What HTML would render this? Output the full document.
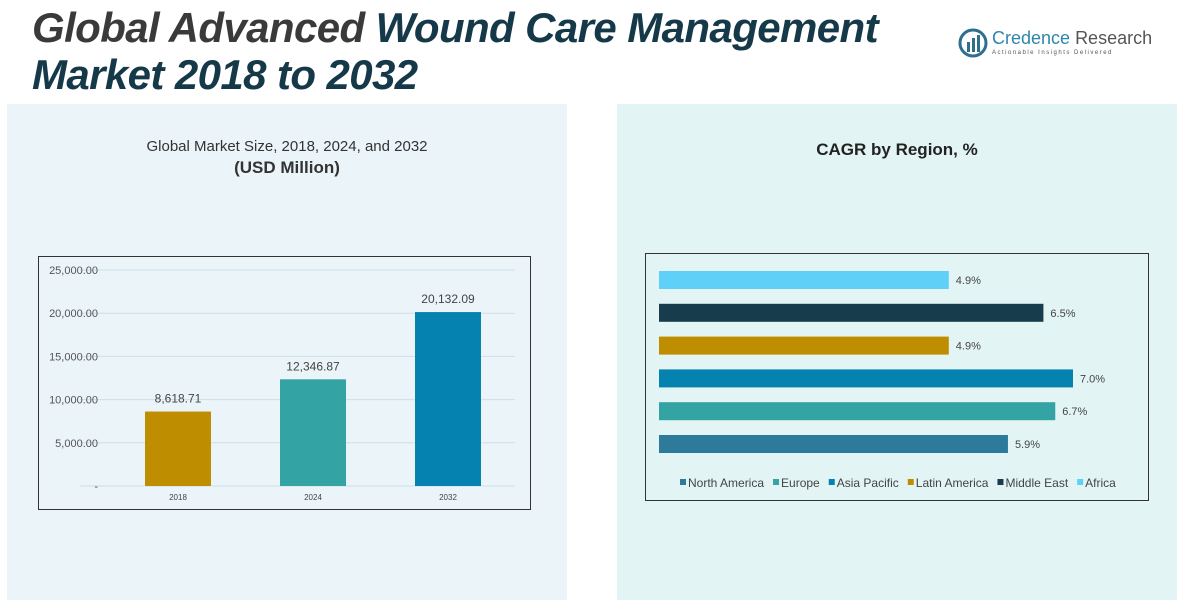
<!DOCTYPE html>
<html><head><meta charset="utf-8"><style>
body{margin:0;width:1193px;height:615px;background:#fff;position:relative;overflow:hidden;font-family:"Liberation Sans",sans-serif}
.abs{position:absolute}
</style></head><body>
<div class="abs" style="left:7px;top:104px;width:560px;height:496px;background:#eaf4f9"></div>
<div class="abs" style="left:617px;top:104px;width:560px;height:496px;background:#e3f4f5"></div>
<div class="abs" style="left:32px;top:4px;font-size:42px;font-weight:bold;font-style:italic;line-height:47px;color:#16394a;letter-spacing:-0.6px;white-space:nowrap"><span style="color:#3a3a3a">Global Advanced</span> Wound Care Management<br>Market 2018 to 2032</div>
<div class="abs" style="left:958px;top:26px;width:200px;height:40px">
<svg width="30" height="30" style="position:absolute;left:0;top:2px"><circle cx="15" cy="15" r="13" fill="none" stroke="#2e6f8e" stroke-width="3"/><rect x="9" y="14" width="3" height="10" fill="#2e6f8e"/><rect x="14" y="10" width="3" height="14" fill="#2e6f8e"/><rect x="19" y="7" width="3" height="17" fill="#2e6f8e"/></svg>
<div class="abs" style="left:34px;top:2px;font-size:18px;color:#2e86ab;white-space:nowrap">Credence <span style="color:#555">Research</span></div>
<div class="abs" style="left:34px;top:24px;font-size:6px;color:#555;letter-spacing:1.5px;white-space:nowrap">Actionable Insights Delivered</div>
</div>
<div class="abs" style="left:7px;width:560px;top:138px;text-align:center;font-size:15px;color:#333">Global Market Size, 2018, 2024, and 2032<br><b style="font-size:17px;line-height:26px">(USD Million)</b></div>
<div class="abs" style="left:617px;width:560px;top:140px;text-align:center;font-size:17px;font-weight:bold;color:#222">CAGR by Region, %</div>
<svg class="abs" style="left:0;top:0" width="1193" height="615" id="svg">
<rect x="38.5" y="256.5" width="492" height="253" fill="none" stroke="#333" stroke-width="1"/>
<rect x="645.5" y="253.5" width="503" height="247" fill="none" stroke="#333" stroke-width="1"/>
<g id="bars1"></g><g id="bars2"></g>
</svg>
<script>
const years=["2018","2024","2032"];
const sizes=[8618.71,12346.87,20132.09];
const sizeLabels=["8,618.71","12,346.87","20,132.09"];
const yTicks=[0,5000,10000,15000,20000,25000];
const yTickLabels=["-","5,000.00","10,000.00","15,000.00","20,000.00","25,000.00"];
const barColors=["#bf8e00","#33a3a3","#0582b0"];
const regions=["North America","Europe","Asia Pacific","Latin America","Middle East","Africa"];
const cagr=[5.9,6.7,7.0,4.9,6.5,4.9];
const regionColors=["#2e7a9a","#33a3a3","#0582b0","#bf8e00","#173d4d","#5fd0f8"];
const NS="http://www.w3.org/2000/svg";
function mk(t,a,p){const e=document.createElementNS(NS,t);for(const k in a)e.setAttribute(k,a[k]);p.appendChild(e);return e;}
const g1=document.getElementById('bars1');
const y=v=>486-v*216/25000;
yTicks.forEach((t,i)=>{
 const l=mk('line',{x1:80,x2:515,y1:y(t),y2:y(t),stroke:'#cfdfe6','stroke-width':1},g1);
 
 
 const tx=mk('text',{x:98,y:y(t)+4,'text-anchor':'end','font-size':11,fill:'#555','font-family':'Liberation Sans'},g1);
 tx.textContent=yTickLabels[i];
 
 
});
const xc=i=>178+i*135;
sizes.forEach((v,i)=>{
 const r=mk('rect',{x:xc(i)-33,y:y(v),width:66,height:486-y(v),fill:barColors[i]},g1);
 
 
 const t=mk('text',{x:xc(i),y:y(v)-9,'text-anchor':'middle','font-size':12,fill:'#444','font-family':'Liberation Sans'},g1);
 t.textContent=sizeLabels[i];
 
 
 const c=mk('text',{x:xc(i),y:500,'text-anchor':'middle','font-size':8,fill:'#444','font-family':'Liberation Sans'},g1);
 c.textContent=years[i];
 
 
});
const g2=document.getElementById('bars2');
const xs=v=>v*414/7;
regions.forEach((r,i)=>{
 const top=435-i*32.8;
 const b=mk('rect',{x:659,y:top,width:xs(cagr[i]),height:18,fill:regionColors[i]},g2);
 
 
 const t=mk('text',{x:659+xs(cagr[i])+7,y:top+13,'font-size':11,fill:'#444','font-family':'Liberation Sans'},g2);
 t.textContent=cagr[i].toFixed(1)+'%';
 
 
});
let lx=680;
regions.forEach((r,i)=>{
 const s=mk('rect',{x:lx,y:479,width:6,height:6,fill:regionColors[i]},g2);
 
 
 const t=mk('text',{x:lx+8,y:487,'font-size':12,fill:'#444','font-family':'Liberation Sans'},g2);
 t.textContent=r;
 
 
 lx+=8+t.getComputedTextLength()+9;
});
</script>
</body></html>
